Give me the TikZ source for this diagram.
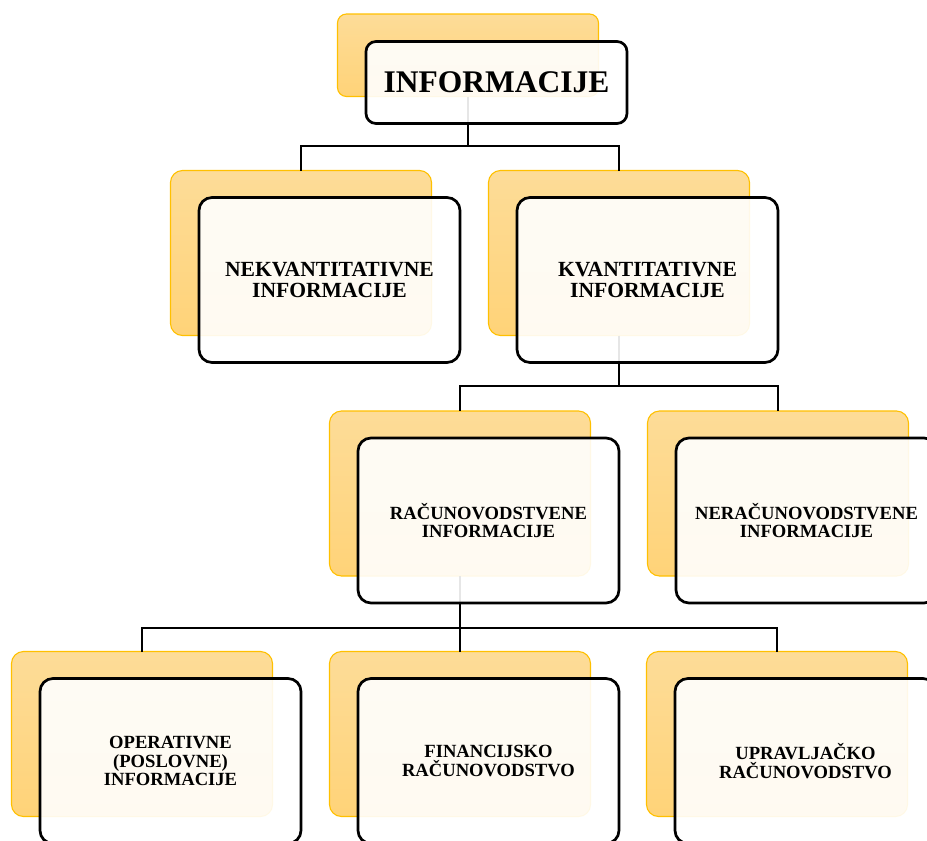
\documentclass[tikz,border=0pt]{standalone}
\usepackage{fontspec}
\setmainfont{Liberation Serif}
\begin{document}
\begin{tikzpicture}[x=1pt,y=-1pt,
  backbox/.style={rounded corners=12pt, draw={rgb,255:red,255;green,192;blue,0}, line width=1.1pt,
    top color={rgb,255:red,253;green,220;blue,152}, bottom color={rgb,255:red,255;green,211;blue,120},
    minimum width=261pt, minimum height=165pt, inner sep=0pt, outer sep=0pt},
  frontbox/.style={rounded corners=13pt, draw=black, line width=2.7pt, fill=white, fill opacity=0.9, text opacity=1,
    minimum width=261pt, minimum height=165pt, inner sep=0pt, outer sep=0pt, align=center,
    font=\bfseries\fontsize{18.6}{18.8}\selectfont},
  bigtext/.style={font=\bfseries\fontsize{21.6}{21.8}\selectfont},
  conn/.style={draw=black, line width=2.7pt}
]
\useasboundingbox (0,0) rectangle (927,841);
% back boxes
\node[backbox, minimum height=82.5pt, rounded corners=9pt] (rootb) at (468,55.25) {};
\node[backbox] (nekb) at (301,253) {};
\node[backbox] (kvb) at (619,253) {};
\node[backbox] (racb) at (460,493.5) {};
\node[backbox] (nerb) at (778,493.5) {};
\node[backbox] (oprb) at (142,734) {};
\node[backbox] (finb) at (460,734) {};
\node[backbox] (uprb) at (777,734) {};
% connectors
\coordinate (j1) at (468,146);
\coordinate (j2) at (619,386);
\coordinate (j3) at (460,628);
\draw[conn] (rootb.south) -- (j1) -| (nekb.north);
\draw[conn] (j1) -| (kvb.north);
\draw[conn] (kvb.south) -- (j2) -| (racb.north);
\draw[conn] (j2) -| (nerb.north);
\draw[conn] (racb.south) -- (j3) -| (oprb.north);
\draw[conn] (j3) -- (finb.north);
\draw[conn] (j3) -| (uprb.north);
% front boxes
\node[frontbox, minimum height=82pt, rounded corners=10pt, font=\bfseries\fontsize{31.5}{32}\selectfont] (rootf) at (496.5,82.5) {INFORMACIJE};
\node[frontbox, bigtext] (nekf) at (329.5,280) {NEKVANTITATIVNE\\INFORMACIJE};
\node[frontbox, bigtext] (kvf) at (647.5,280) {KVANTITATIVNE\\INFORMACIJE};
\node[frontbox] (racf) at (488.5,520.5) {RAČUNOVODSTVENE\\INFORMACIJE};
\node[frontbox] (nerf) at (806.5,520.5) {NERAČUNOVODSTVENE\\INFORMACIJE};
\node[frontbox] (oprf) at (170.5,761) {OPERATIVNE\\(POSLOVNE)\\INFORMACIJE};
\node[frontbox] (finf) at (488.5,761) {FINANCIJSKO\\RAČUNOVODSTVO};
\node[frontbox] (uprf) at (805.5,761) {UPRAVLJAČKO\\RAČUNOVODSTVO};
\end{tikzpicture}
\end{document}
